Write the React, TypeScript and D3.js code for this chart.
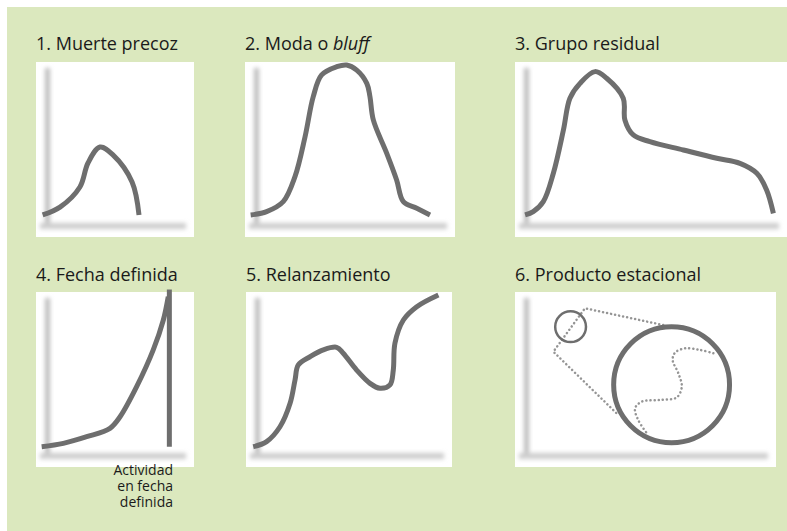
import React from "react";
import * as d3 from "d3";

type Pt = [number, number];

// Curve shapes, in percent of each panel (x: time, y: sales)
const muertePrecoz: Pt[] = [
  [4.2, 12.6], [15.2, 17.1], [27.8, 28.6], [32.9, 42.3], [40.5, 51.4],
  [48.7, 46.9], [60.8, 31.4], [65.2, 12.6],
];
const modaBluff: Pt[] = [
  [2.7, 12.6], [10.3, 14.5], [18.2, 20.2], [23.8, 34.5], [28.6, 57.3],
  [32.5, 80.2], [36.5, 92.6], [43.7, 97.3], [48.4, 98.3], [53.2, 95.4],
  [58.0, 87.8], [59.5, 80.2], [61.1, 66.9], [67.5, 47.8], [72.2, 32.6],
  [75.4, 20.2], [81.8, 16.4], [88.1, 12.6],
];
const grupoResidual: Pt[] = [
  [3.7, 12.6], [6.7, 14.5], [10.4, 20.2], [14.1, 36.4], [17.8, 61.1],
  [20.2, 79.3], [23.9, 87.8], [29.4, 94.5], [33.7, 90.7], [39.8, 79.3],
  [40.4, 66.9], [43.5, 58.3], [49.6, 54.5], [61.9, 49.7], [74.2, 45.0],
  [82.7, 42.1], [88.9, 36.4], [92.5, 26.9], [95.0, 13.5],
];
const fechaDefinida: Pt[] = [
  [3.6, 11.6], [17.3, 13.5], [32.1, 17.3], [46.8, 22.1], [53.2, 28.7],
  [63.7, 45.9], [74.2, 66.9], [80.6, 84.0], [83.7, 97.3],
];
const fechaLimite: Pt[] = [[84.4, 11.6], [84.4, 101.5]];
const relanzamiento: Pt[] = [
  [3.5, 11.6], [10.0, 14.5], [16.5, 23.0], [21.4, 36.4], [23.8, 49.7],
  [25.4, 58.3], [31.1, 63.0], [37.5, 66.9], [44.0, 68.4], [47.2, 65.0],
  [53.7, 55.4], [60.2, 47.8], [65.0, 45.0], [69.9, 46.9], [71.5, 55.4],
  [72.3, 70.7], [76.4, 84.0], [82.9, 91.6], [93.4, 98.3],
];
// Panel 6: magnifier
const lupaPequena = { cx: 21.3, cy: 80.2, r: 5.9 };
const lupaGrande = { cx: 60.0, cy: 47.0, r: 22.2 };
const cono: Pt[] = [[56.8, 81.1], [26.8, 90.7], [14.7, 65.9], [39.6, 29.7]];
const ola: Pt[] = [
  [76.0, 65.0], [70.9, 66.9], [65.1, 67.8], [61.3, 65.3], [60.4, 61.1],
  [62.6, 53.5], [63.9, 45.9], [62.0, 39.8], [55.6, 38.3], [48.5, 37.3],
  [46.0, 33.5], [47.2, 26.9], [50.5, 19.3],
];

const titles = [
  "1. Muerte precoz",
  "2. Moda o ",
  "3. Grupo residual",
  "4. Fecha definida",
  "5. Relanzamiento",
  "6. Producto estacional",
];
const noteLines = ["Actividad", "en fecha", "definida"];

const boxes = [
  { x: 36, y: 62, w: 158, h: 175 },
  { x: 245, y: 62, w: 210, h: 175 },
  { x: 515, y: 62, w: 272, h: 175 },
  { x: 36, y: 292, w: 158, h: 175 },
  { x: 246, y: 292, w: 206, h: 175 },
  { x: 515, y: 292, w: 261, h: 175 },
];

const LINE = "#6e6e6e";
const FONT = "'Open Sans', 'Noto Sans', sans-serif";

function Panel({ i }: { i: number }) {
  const b = boxes[i];
  const x = d3.scaleLinear().domain([0, 100]).range([b.x, b.x + b.w]);
  const y = d3.scaleLinear().domain([0, 100]).range([b.y + b.h, b.y]);
  const line = d3
    .line<Pt>()
    .x((d) => x(d[0]))
    .y((d) => y(d[1]))
    .curve(d3.curveCatmullRom.alpha(0.5));
  const straight = d3
    .line<Pt>()
    .x((d) => x(d[0]))
    .y((d) => y(d[1]));
  const titleY = i < 3 ? 50 : 281;
  const curves: Record<number, Pt[]> = {
    0: muertePrecoz,
    1: modaBluff,
    2: grupoResidual,
    3: fechaDefinida,
    4: relanzamiento,
  };
  const rpx = (r: number) => x(r) - x(0);
  return (
    <g>
      <text x={b.x} y={titleY} fontSize={18} fill="#1a1a1a" fontFamily={FONT}>
        {titles[i]}
        {i === 1 && <tspan fontStyle="italic">bluff</tspan>}
      </text>
      <rect x={b.x} y={b.y} width={b.w} height={b.h} fill="#ffffff" />
      <g filter="url(#blur)">
        <rect x={b.x + 9} y={b.y + 6} width={5} height={b.h - 18} fill="#bdbdbd" />
        <rect x={b.x + 4} y={b.y + b.h - 14} width={b.w - 12} height={6} fill="#cdcdcd" />
      </g>
      {curves[i] && (
        <path d={line(curves[i]) || ""} fill="none" stroke={LINE} strokeWidth={5} strokeLinejoin="round" />
      )}
      {i === 3 && (
        <path d={straight(fechaLimite) || ""} fill="none" stroke={LINE} strokeWidth={5} />
      )}
      {i === 5 && (
        <g>
          <path
            d={straight(cono) || ""}
            fill="none"
            stroke="#959595"
            strokeWidth={2.5}
            strokeDasharray="0.1 4"
            strokeLinecap="round"
          />
          <path
            d={line(ola) || ""}
            fill="none"
            stroke="#959595"
            strokeWidth={2.5}
            strokeDasharray="0.1 4"
            strokeLinecap="round"
          />
          <circle
            cx={x(lupaPequena.cx)}
            cy={y(lupaPequena.cy)}
            r={rpx(lupaPequena.r)}
            fill="none"
            stroke={LINE}
            strokeWidth={2.5}
          />
          <circle
            cx={x(lupaGrande.cx)}
            cy={y(lupaGrande.cy)}
            r={rpx(lupaGrande.r)}
            fill="none"
            stroke={LINE}
            strokeWidth={5}
          />
        </g>
      )}
    </g>
  );
}

export default function App() {
  return (
    <svg
      width={787}
      height={531}
      style={{ position: "absolute", left: 0, top: 0, display: "block" }}
    >
      <defs>
        <filter id="blur" x="-50%" y="-50%" width="200%" height="200%">
          <feGaussianBlur stdDeviation={2} />
        </filter>
      </defs>
      <rect x={0} y={0} width={787} height={531} fill="#ffffff" />
      <rect x={7} y={7} width={780} height={524} fill="#dbe8be" />
      {boxes.map((_, i) => (
        <Panel key={i} i={i} />
      ))}
      {noteLines.map((t, k) => (
        <text
          key={k}
          x={173}
          y={475 + k * 16}
          fontSize={14}
          fill="#1a1a1a"
          fontFamily={FONT}
          textAnchor="end"
        >
          {t}
        </text>
      ))}
    </svg>
  );
}
